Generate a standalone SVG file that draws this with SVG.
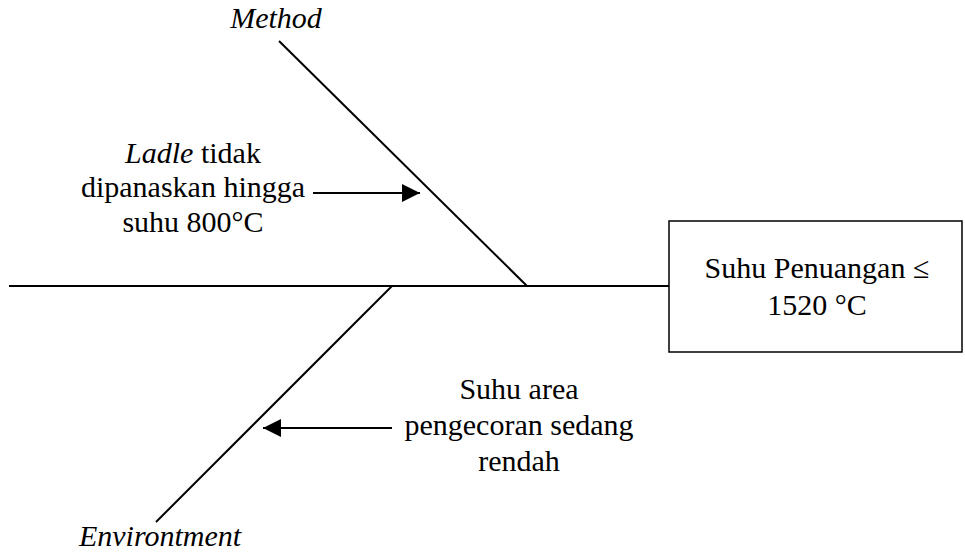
<svg xmlns="http://www.w3.org/2000/svg" width="965" height="554" viewBox="0 0 965 554">
<style>
text{font-family:"Liberation Serif","Times New Roman",serif;font-size:30px;fill:#000;text-anchor:middle}
.it{font-style:italic}
.ln{stroke:#000;stroke-width:2;fill:none}
</style>
<defs>
<marker id="ah" viewBox="0 0 10 10" refX="10" refY="5" markerWidth="18" markerHeight="18" markerUnits="userSpaceOnUse" orient="auto">
<path d="M0,0 L10,5 L0,10 Z" fill="#000"/>
</marker>
</defs>
<rect width="965" height="554" fill="#fff"/>
<g id="connectors">
<line class="ln" x1="9" y1="286" x2="669" y2="286"/>
<line class="ln" x1="279" y1="41" x2="527" y2="286"/>
<line class="ln" x1="392" y1="286" x2="156" y2="522"/>
<line class="ln" x1="313" y1="193" x2="420" y2="193" marker-end="url(#ah)"/>
<line class="ln" x1="392" y1="428" x2="263" y2="428" marker-end="url(#ah)"/>
</g>
<g id="effect">
<rect x="669" y="221" width="293" height="131" fill="#fff" stroke="#000" stroke-width="1.5"/>
<text x="817" y="278">Suhu Penuangan ≤</text>
<text x="817" y="315">1520 °C</text>
</g>
<g id="method">
<text class="it" x="276" y="28">Method</text>
</g>
<g id="environment">
<text class="it" x="160" y="546">Environtment</text>
</g>
<g id="cause-ladle">
<text x="193" y="163"><tspan class="it">Ladle</tspan> tidak</text>
<text x="193" y="197">dipanaskan hingga</text>
<text x="193" y="232">suhu 800°C</text>
</g>
<g id="cause-suhu">
<text x="519" y="399">Suhu area</text>
<text x="519" y="435">pengecoran sedang</text>
<text x="519" y="471">rendah</text>
</g>
</svg>
